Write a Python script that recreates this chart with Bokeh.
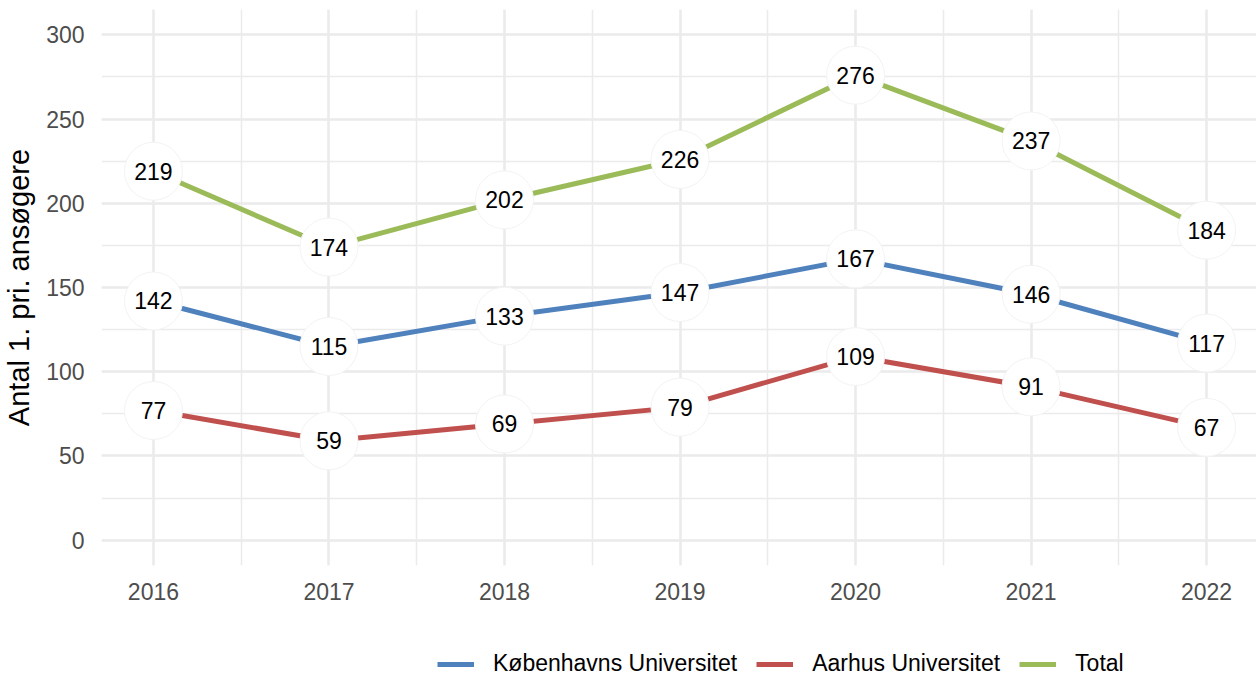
from bokeh.plotting import figure
from bokeh.models import (ColumnDataSource, Range1d, SingleIntervalTicker, Legend, LegendItem)
from bokeh.layouts import column
from bokeh.core.properties import value
from bokeh.embed import file_html
from bokeh.resources import INLINE

years = [2016, 2017, 2018, 2019, 2020, 2021, 2022]
ku = [142, 115, 133, 147, 167, 146, 117]
au = [77, 59, 69, 79, 109, 91, 67]
total = [219, 174, 202, 226, 276, 237, 184]
series_names = ["Københavns Universitet", "Aarhus Universitet", "Total"]
series_colors = ["#4f81bd", "#c0504d", "#9bbb59"]

FONT = "Liberation Sans"

p = figure(frame_width=1156, frame_height=556, output_backend="svg", toolbar_location=None,
           x_range=Range1d(2015.704, 2022.29), y_range=Range1d(-15, 315),
           min_border_left=97, min_border_right=0, min_border_top=9, min_border_bottom=0)
p.outline_line_color = None
p.background_fill_color = "white"

for ax in (p.xaxis, p.yaxis):
    ax.axis_line_color = None
    ax.major_tick_line_color = None
    ax.minor_tick_line_color = None
    ax.major_label_text_font = FONT
    ax.major_label_text_font_size = "23px"
    ax.major_label_text_color = "#4d4d4d"
    ax.major_label_standoff = 11

p.xaxis.ticker = SingleIntervalTicker(interval=1, num_minor_ticks=2)
p.yaxis.ticker = SingleIntervalTicker(interval=50, num_minor_ticks=2)
p.xgrid.ticker = p.xaxis.ticker
p.ygrid.ticker = p.yaxis.ticker
p.yaxis.axis_label = "Antal 1. pri. ansøgere"
p.yaxis.axis_label_text_font = FONT
p.yaxis.axis_label_text_font_size = "29px"
p.yaxis.axis_label_text_font_style = "normal"
p.yaxis.axis_label_text_color = "black"
p.yaxis.axis_label_standoff = 8

for g in (p.xgrid, p.ygrid):
    g.grid_line_color = "#ebebeb"
    g.grid_line_width = 2.5
    g.minor_grid_line_color = "#ebebeb"
    g.minor_grid_line_width = 1.5

data_series = [ku, au, total]
for name, color, vals in zip(series_names, series_colors, data_series):
    p.line(years, vals, line_color=color, line_width=5)

for vals in data_series:
    src = ColumnDataSource(dict(x=years, y=vals, t=[str(v) for v in vals]))
    p.scatter("x", "y", source=src, size=58, fill_color="white",
              line_color="#f3f3f3", line_width=1)
    p.text("x", "y", text="t", source=src, text_align="center", text_baseline="middle",
           text_font=value(FONT), text_font_size="23px", text_color="black")

# legend strip below the chart (its line renderers use the same data, off-view)
leg = figure(width=1253, height=80, output_backend="svg", toolbar_location=None,
             min_border=0, x_axis_type=None, y_axis_type=None,
             x_range=Range1d(0, 1), y_range=Range1d(0, 1))
leg.grid.visible = False
leg.outline_line_color = None
items = []
for name, color, vals in zip(series_names, series_colors, data_series):
    r = leg.line(years, vals, line_color=color, line_width=5)
    items.append(LegendItem(label=name, renderers=[r]))

legend = Legend(items=items, orientation="horizontal", location=(336, 5))
legend.border_line_color = None
legend.background_fill_alpha = 0
legend.label_text_font = FONT
legend.label_text_font_size = "23px"
legend.label_text_color = "black"
legend.glyph_width = 37
legend.glyph_height = 20
legend.label_standoff = 19
legend.spacing = 19
legend.margin = 0
legend.padding = 4
leg.add_layout(legend, "center")

layout = column(p, leg, spacing=0)
open("out.html", "w").write(file_html(layout, INLINE))
